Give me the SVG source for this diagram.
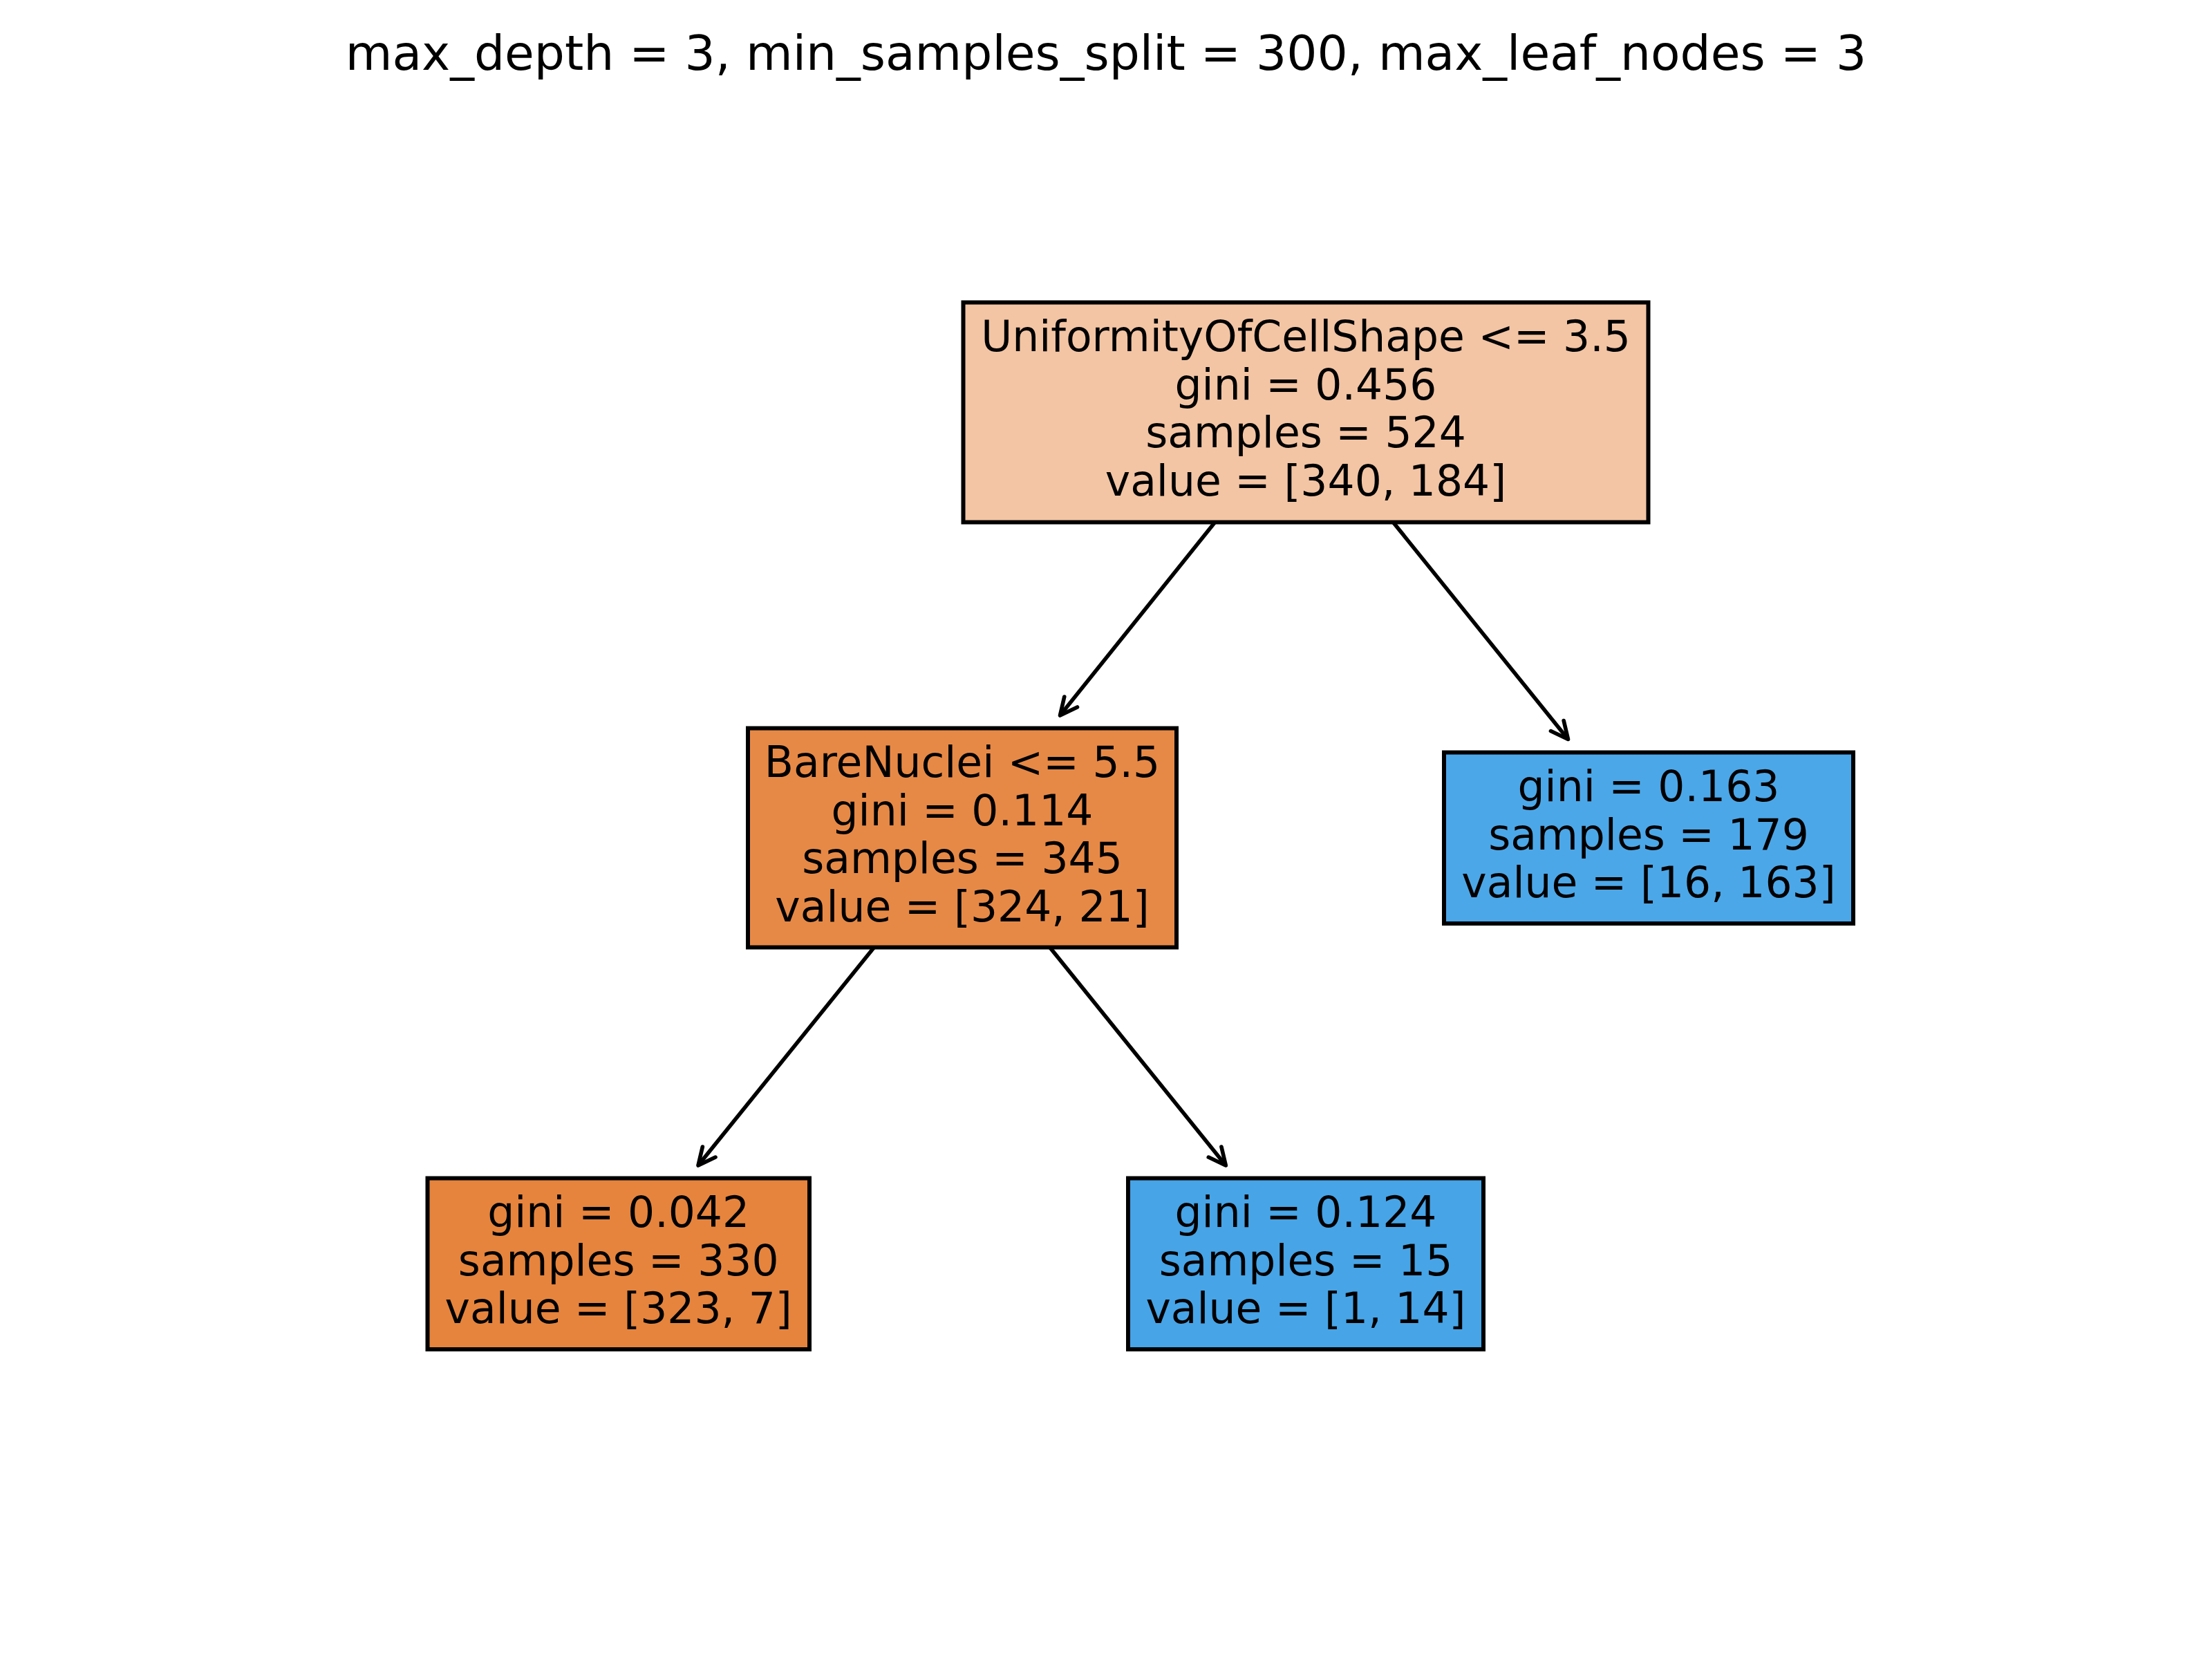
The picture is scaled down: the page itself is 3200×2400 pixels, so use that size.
<svg xmlns="http://www.w3.org/2000/svg" width="3200" height="2400" viewBox="0 0 3200 2400">
<style>
  .bg { fill: #ffffff; }
  .box { stroke: #000000; stroke-width: 6; }
  .t { font-family: "DejaVu Sans", "Liberation Sans", sans-serif; font-size: 61.5px; fill: #000000; text-anchor: middle; }
  .title { font-family: "DejaVu Sans", "Liberation Sans", sans-serif; font-size: 69.5px; fill: #000000; text-anchor: middle; }
  .edge { fill: none; stroke: #000000; stroke-width: 5.6; stroke-linecap: butt; marker-end: url(#head); }
</style>
<defs>
  <marker id="head" markerUnits="userSpaceOnUse" orient="auto" refX="0" refY="0" markerWidth="60" markerHeight="60" viewBox="-40 -30 60 60" overflow="visible">
    <path d="M -25 -12 L 0 0 L -25 12" fill="none" stroke="#000000" stroke-width="5.6" stroke-linecap="round" stroke-linejoin="round"/>
  </marker>
</defs>
<rect class="bg" x="0" y="0" width="3200" height="2400"/>
<text class="title" x="1600" y="101">max_depth = 3, min_samples_split = 300, max_leaf_nodes = 3</text>
<g id="connectors">
  <path class="edge" d="M 1758 755 L 1533.5 1035"/>
  <path class="edge" d="M 2015 755 L 2268.5 1069.5"/>
  <path class="edge" d="M 1264.5 1370.5 L 1010 1686"/>
  <path class="edge" d="M 1518.7 1370.5 L 1773.3 1686"/>
</g>
<g id="node-root">
  <rect class="box" x="1393.5" y="437.5" width="991" height="318" fill="#f3c5a4"/>
  <text class="t" x="1889" y="508.4">UniformityOfCellShape &lt;= 3.5</text>
  <text class="t" x="1889" y="577.9">gini = 0.456</text>
  <text class="t" x="1889" y="647.4">samples = 524</text>
  <text class="t" x="1889" y="716.9">value = [340, 184]</text>
</g>
<g id="node-barenuclei">
  <rect class="box" x="1082" y="1053.5" width="620" height="317" fill="#e78946"/>
  <text class="t" x="1392" y="1124.1">BareNuclei &lt;= 5.5</text>
  <text class="t" x="1392" y="1193.6">gini = 0.114</text>
  <text class="t" x="1392" y="1263.1">samples = 345</text>
  <text class="t" x="1392" y="1332.6">value = [324, 21]</text>
</g>
<g id="node-leaf-right">
  <rect class="box" x="2089" y="1088.5" width="592" height="247.5" fill="#4ca7e8"/>
  <text class="t" x="2385" y="1159.1">gini = 0.163</text>
  <text class="t" x="2385" y="1228.6">samples = 179</text>
  <text class="t" x="2385" y="1298.1">value = [16, 163]</text>
</g>
<g id="node-leaf-left">
  <rect class="box" x="618.5" y="1704.5" width="552.5" height="247.5" fill="#e6843d"/>
  <text class="t" x="894.7" y="1775">gini = 0.042</text>
  <text class="t" x="894.7" y="1844.5">samples = 330</text>
  <text class="t" x="894.7" y="1914">value = [323, 7]</text>
</g>
<g id="node-leaf-mid">
  <rect class="box" x="1632" y="1704.5" width="514" height="247.5" fill="#47a4e7"/>
  <text class="t" x="1889" y="1775">gini = 0.124</text>
  <text class="t" x="1889" y="1844.5">samples = 15</text>
  <text class="t" x="1889" y="1914">value = [1, 14]</text>
</g>
</svg>
